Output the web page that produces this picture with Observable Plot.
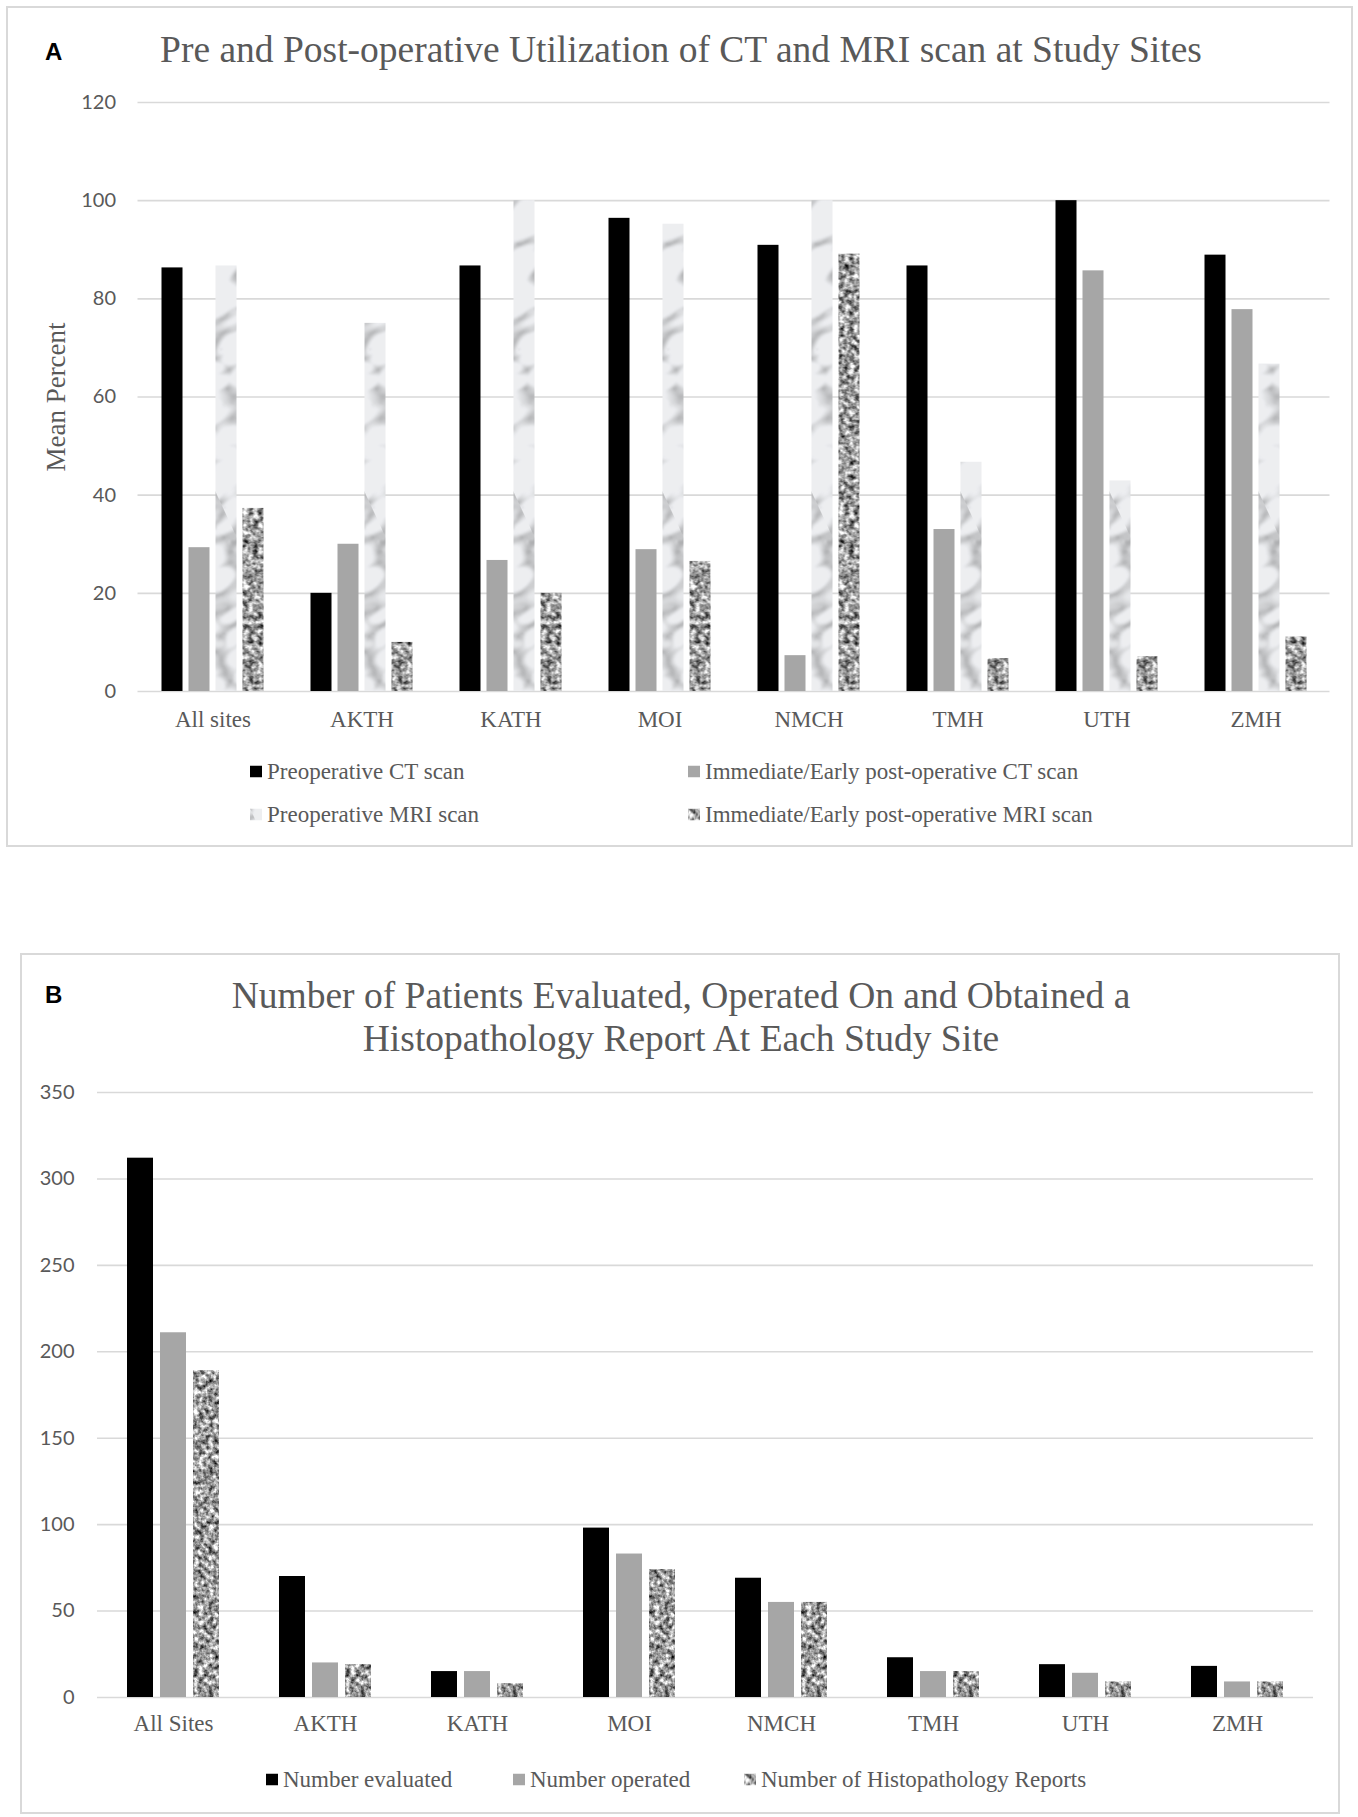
<!DOCTYPE html>
<html>
<head>
<meta charset="utf-8">
<script src="https://cdn.jsdelivr.net/npm/d3@7"></script>
<script src="https://cdn.jsdelivr.net/npm/@observablehq/plot@0.6"></script>
<style>
  html, body { margin: 0; padding: 0; background: #fff; }
  body { width: 1358px; height: 1817px; position: relative; overflow: hidden; }
  .abs { position: absolute; }
  .panel { position: absolute; box-sizing: border-box; border: 2px solid #d9d9d9; }
  .letter { position: absolute; font-family: "Liberation Sans", Arial, sans-serif; font-weight: bold; font-size: 24px; color: #000; line-height: 1; transform: translateY(-50%); }
  .title { position: absolute; font-family: "Liberation Serif", "Times New Roman", serif; font-size: 37.5px; color: #595959; text-align: center; line-height: 1; white-space: nowrap; transform: translate(-50%, -50%); }
  .legend { position: absolute; font-family: "Liberation Serif", "Times New Roman", serif; font-size: 23px; color: #595959; white-space: nowrap; line-height: 1; transform: translateY(-50%); display: flex; align-items: center; }
  .legend svg { margin-right: 5px; }
  .ylabel { position: absolute; font-family: "Liberation Serif", "Times New Roman", serif; font-size: 27px; color: #595959; white-space: nowrap; transform: translate(-50%, -50%) rotate(-90deg); line-height: 1; }
</style>
</head>
<body>
<svg width="0" height="0" style="position:absolute">
  <defs>
    <filter id="fGranite" color-interpolation-filters="sRGB">
      <feTurbulence type="fractalNoise" baseFrequency="0.2" numOctaves="3" seed="3"/>
      <feColorMatrix type="matrix" values="1.6 0 0 0 -0.19  1.6 0 0 0 -0.19  1.6 0 0 0 -0.19  0 0 0 0 1"/>
      <feGaussianBlur stdDeviation="0.5"/>
    </filter>
    <filter id="fMarble" color-interpolation-filters="sRGB">
      <feTurbulence type="turbulence" baseFrequency="0.018 0.03" numOctaves="2" seed="11"/>
      <feColorMatrix type="matrix" values="1.1 0 0 0 0.74  1.1 0 0 0 0.74  1.1 0 0 0 0.74  0 0 0 0 1"/>
      <feGaussianBlur stdDeviation="1.2"/>
      <feComponentTransfer>
        <feFuncR type="linear" slope="0.93"/>
        <feFuncG type="linear" slope="0.935"/>
        <feFuncB type="linear" slope="0.945"/>
      </feComponentTransfer>
    </filter>
    <pattern id="granite" patternUnits="userSpaceOnUse" width="400" height="800">
      <rect width="400" height="800" filter="url(#fGranite)"/>
    </pattern>
    <pattern id="marble" patternUnits="userSpaceOnUse" width="400" height="900" patternTransform="rotate(-25)">
      <rect width="400" height="900" filter="url(#fMarble)"/>
    </pattern>
  </defs>
</svg>

<div class="panel" style="left:6px;top:6px;width:1347px;height:841px"></div>
<div class="letter" style="left:45px;top:52px">A</div>
<div class="title" style="left:681px;top:50px">Pre and Post-operative Utilization of CT and MRI scan at Study Sites</div>
<div class="ylabel" style="left:56px;top:397px">Mean Percent</div>
<div id="gridA" class="abs" style="left:0;top:80px"></div>
<div id="chartA" class="abs" style="left:0;top:80px"></div>

<div class="panel" style="left:20px;top:953px;width:1320px;height:861px"></div>
<div class="letter" style="left:45px;top:995px">B</div>
<div class="title" style="left:681px;top:996px">Number of Patients Evaluated, Operated On and Obtained a</div>
<div class="title" style="left:681px;top:1039px">Histopathology Report At Each Study Site</div>
<div id="gridB" class="abs" style="left:0;top:1070px"></div>
<div id="chartB" class="abs" style="left:0;top:1070px"></div>

<script>
// ---------- Data: panel A ----------
const sitesA = ["All sites", "AKTH", "KATH", "MOI", "NMCH", "TMH", "UTH", "ZMH"];
const seriesA = [
  "Preoperative CT scan",
  "Immediate/Early post-operative CT scan",
  "Preoperative MRI scan",
  "Immediate/Early post-operative MRI scan"
];
const preopCT   = [86.3, 20.0, 86.7, 96.4, 90.9, 86.7, 100.0, 88.9];
const postopCT  = [29.3, 30.0, 26.7, 28.9,  7.3, 33.0,  85.7, 77.8];
const preopMRI  = [86.7, 75.0, 100.0, 95.2, 100.0, 46.7, 42.9, 66.7];
const postopMRI = [37.3, 10.0, 20.0, 26.5, 89.1,  6.7,  7.1, 11.1];
const yTicksA = [0, 20, 40, 60, 80, 100, 120];

// ---------- Data: panel B ----------
const sitesB = ["All Sites", "AKTH", "KATH", "MOI", "NMCH", "TMH", "UTH", "ZMH"];
const seriesB = ["Number evaluated", "Number operated", "Number of Histopathology Reports"];
const evaluated = [312, 70, 15, 98, 69, 23, 19, 18];
const operated  = [211, 20, 15, 83, 55, 15, 14,  9];
const histoReports = [189, 19, 8, 74, 55, 15, 9, 9];
const yTicksB = [0, 50, 100, 150, 200, 250, 300, 350];

const fillsA = ["#000000", "#a6a6a6", "url(#marble)", "url(#granite)"];
const fillsB = ["#000000", "#a6a6a6", "url(#granite)"];

function toRows(sites, series, cols) {
  return sites.flatMap((site, i) => series.map((s, j) => ({site, series: s, value: cols[j][i]})));
}

const rowsA = toRows(sitesA, seriesA, [preopCT, postopCT, preopMRI, postopMRI]);
const rowsB = toRows(sitesB, seriesB, [evaluated, operated, histoReports]);

const serif = "'Liberation Serif', 'Times New Roman', serif";
const sans = "Lato, 'Open Sans', sans-serif";

function frame(o) {
  return {
    width: 1358, height: o.height,
    marginTop: o.mt, marginBottom: o.mb, marginLeft: o.ml, marginRight: o.mr,
    style: {background: "transparent", color: "#595959", overflow: "visible"}
  };
}

// background layer: gridlines and y axis (full width, not faceted)
function buildGrid(o) {
  return Plot.plot({
    ...frame(o),
    y: {domain: o.yDomain, axis: null},
    marks: [
      Plot.ruleY(o.ticks, {stroke: "#d9d9d9", strokeWidth: 1.6}),
      Plot.axisY({ticks: o.ticks, tickSize: 0, tickPadding: o.yPad, fontSize: 20, fontFamily: sans, label: null, tickFormat: d => String(d)})
    ]
  });
}

// foreground layer: grouped bars, faceted by site
function buildBars(o) {
  return Plot.plot({
    ...frame(o),
    fx: {domain: o.sites, paddingInner: o.fxPi, paddingOuter: o.fxPo, label: null, axis: null},
    x: {domain: o.series, paddingInner: o.xPi, paddingOuter: 0, axis: null},
    y: {domain: o.yDomain, axis: null},
    color: {domain: o.series, range: o.fills},
    marks: [
      Plot.barY(o.rows, {fx: "site", x: "series", y: "value", fill: "series"}),
      Plot.axisFx({anchor: "bottom", tickSize: 0, tickPadding: o.fxPad, fontSize: 23, fontFamily: serif, label: null})
    ]
  });
}

const optA = {
  height: 660, mt: 22, mb: 49, ml: 137.5, mr: 28.5,
  sites: sitesA, series: seriesA, fills: fillsA, rows: rowsA,
  fxPi: 0.31, fxPo: 0.155, xPi: 0.23, yDomain: [0, 120], ticks: yTicksA,
  fxPad: 19, yPad: 22
};
const optB = {
  height: 700, mt: 22, mb: 73, ml: 97, mr: 45,
  sites: sitesB, series: seriesB, fills: fillsB, rows: rowsB,
  fxPi: 0.38, fxPo: 0.19, xPi: 0.21, yDomain: [0, 350], ticks: yTicksB,
  fxPad: 17, yPad: 23
};

document.getElementById("gridA").append(buildGrid(optA));
document.getElementById("chartA").append(buildBars(optA));
document.getElementById("gridB").append(buildGrid(optB));
document.getElementById("chartB").append(buildBars(optB));

function legendItem(label, fill, left, top) {
  const d = document.createElement("div");
  d.className = "legend";
  d.style.left = left + "px";
  d.style.top = top + "px";
  d.innerHTML = `<svg width="12" height="12"><rect width="12" height="12" fill="${fill}"/></svg><span>${label}</span>`;
  document.body.append(d);
}
legendItem(seriesA[0], fillsA[0], 250, 771);
legendItem(seriesA[1], fillsA[1], 688, 771);
legendItem(seriesA[2], fillsA[2], 250, 814);
legendItem(seriesA[3], fillsA[3], 688, 814);

legendItem(seriesB[0], fillsB[0], 266, 1779);
legendItem(seriesB[1], fillsB[1], 513, 1779);
legendItem(seriesB[2], fillsB[2], 744, 1779);
</script>
</body>
</html>
